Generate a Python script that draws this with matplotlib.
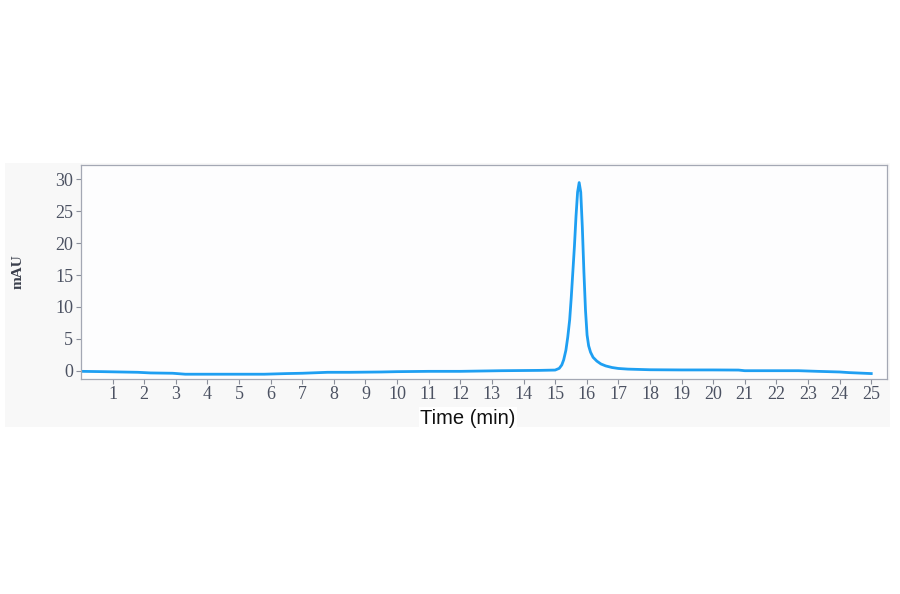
import matplotlib
matplotlib.use("Agg")
import matplotlib.pyplot as plt
from matplotlib.patches import Rectangle

# chromatogram trace (time in min, signal in mAU)
time_min = [0.0, 0.7, 1.8, 2.2, 2.9, 3.3, 4.5, 5.8, 6.5, 7.0, 7.8, 8.5, 9.5, 10.0,
            11.0, 12.0, 13.3, 14.5, 15.0, 15.13, 15.21, 15.27, 15.34, 15.40,
            15.46, 15.51, 15.56, 15.61, 15.66, 15.71, 15.76, 15.81, 15.86, 15.91,
            15.96, 16.01, 16.06, 16.12, 16.20, 16.32, 16.45, 16.60, 16.80, 17.0,
            17.3, 18.0, 19.0, 20.0, 20.8, 21.0, 22.0, 22.7, 23.3, 24.0, 24.3, 25.0]
signal = [-0.1, -0.15, -0.25, -0.35, -0.4, -0.55, -0.55, -0.55, -0.45, -0.4,
          -0.25, -0.25, -0.2, -0.15, -0.1, -0.1, 0.0, 0.05, 0.1, 0.37, 0.9, 1.7,
          3.2, 5.3, 8.0, 11.5, 15.5, 19.5, 24.2, 28.0, 29.5, 28.0, 22.5, 15.5,
          9.5, 5.6, 3.9, 2.9, 2.1, 1.5, 1.05, 0.75, 0.5, 0.35, 0.25, 0.15, 0.12,
          0.12, 0.1, 0.0, 0.0, 0.0, -0.1, -0.2, -0.3, -0.45]

x_ticks = list(range(1, 26))
y_ticks = [0, 5, 10, 15, 20, 25, 30]

fig = plt.figure(figsize=(9, 5.94), dpi=100, facecolor="white")
# faint grey panel behind the plot
fig.patches.append(Rectangle((5 / 900, 1 - 427 / 594), 885 / 900, 264 / 594,
                             transform=fig.transFigure, facecolor="#f8f8f8",
                             edgecolor="none", zorder=-10))

ax = fig.add_axes([0.09, 0.3625, 0.8956, 0.3602])
ax.set_facecolor("#fdfdfe")
ax.plot(time_min, signal, color="#1e9ff2", lw=2.0, solid_joinstyle="round")

ax.set_xlim(0, 25.5)
ax.set_ylim(-1.25, 32.3)
ax.set_xticks(x_ticks)
ax.set_yticks(y_ticks)

for s in ax.spines.values():
    s.set_color("#a4a8b4")
    s.set_linewidth(0.9)

tick_font = {"family": "Liberation Serif", "size": 13}
ax.set_xticklabels([str(t) for t in x_ticks], fontdict=tick_font, color="#4c5262")
ax.set_yticklabels([str(t) for t in y_ticks], fontdict=tick_font, color="#4c5262")
ax.tick_params(axis="both", direction="out", length=3.5, width=0.8, color="#8a8e9a", pad=2)

ax.set_xlabel("Time (min)", family="Liberation Sans", fontsize=14.5, color="#111111",
              bbox=dict(facecolor="white", edgecolor="none", pad=1))
ax.xaxis.set_label_coords(0.48, -0.14)
ax.set_ylabel("mAU", family="Liberation Serif", fontweight="bold", fontsize=11,
              color="#3a3f4c")
ax.yaxis.set_label_coords(-0.07, 0.5)

fig.savefig("out.png", dpi=100, facecolor=fig.get_facecolor())
